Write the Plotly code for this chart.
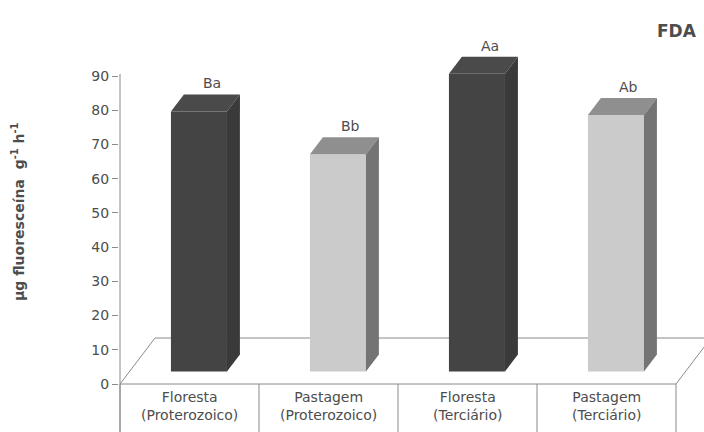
import plotly.graph_objects as go

# ---- data ----
categories = ["Floresta<br>(Proterozoico)", "Pastagem<br>(Proterozoico)",
              "Floresta<br>(Terciário)", "Pastagem<br>(Terciário)"]
values = [76, 63.5, 87, 75]
letters = ["Ba", "Bb", "Aa", "Ab"]
y_ticks = [0, 10, 20, 30, 40, 50, 60, 70, 80, 90]

front_colors = ["#444444", "#cbcbcb", "#444444", "#cbcbcb"]
top_colors = ["#4a4a4a", "#8f8f8f", "#4a4a4a", "#8f8f8f"]
side_colors = ["#3a3a3a", "#747474", "#3a3a3a", "#747474"]

# ---- pseudo-3D projection parameters (in axis units) ----
PX_X = 139.0          # pixels per category slot
PX_Y = 3.422          # pixels per value unit
DX = 35 / PX_X        # full floor depth, horizontal
DY = 46 / PX_Y        # full floor depth, vertical
D0, D1 = 0.27, 0.64   # bar front / back depth fractions
BAR_W = 0.403
ddx = (D1 - D0) * DX
ddy = (D1 - D0) * DY

L_MARGIN = 119
W, H = 704, 432
x0 = -0.5 - 1 / PX_X
x1 = x0 + (W - L_MARGIN) / PX_X
y_top = 384 / PX_Y
y_bot = -(H - 384) / PX_Y

xs = list(range(len(values)))
x_front = [i + D0 * DX for i in xs]
base = D0 * DY

fig = go.Figure()
fig.add_trace(go.Bar(
    x=x_front, y=values, base=[base] * len(values), width=BAR_W,
    marker=dict(color=front_colors, line=dict(width=0)),
    hoverinfo="skip", showlegend=False,
))

shapes = []
# floor
shapes.append(dict(
    type="path", xref="x", yref="y", layer="below",
    path=f"M {-0.5},0 L {3.5},0 L {3.5 + DX},{DY} L {-0.5 + DX},{DY} Z",
    line=dict(color="#8a8a8a", width=1), fillcolor="rgba(0,0,0,0)",
))
# category separators
for k in range(len(values) + 1):
    shapes.append(dict(type="line", xref="x", yref="y", layer="below",
                       x0=k - 0.5, x1=k - 0.5, y0=0, y1=y_bot,
                       line=dict(color="#8a8a8a", width=1)))
# value axis line
shapes.append(dict(type="line", xref="x", yref="y", layer="below",
                   x0=-0.5, x1=-0.5, y0=y_bot, y1=90.6,
                   line=dict(color="#8a8a8a", width=1)))
# bar top and side faces
for xf, v, tc, sc in zip(x_front, values, top_colors, side_colors):
    xl, xr = xf - BAR_W / 2, xf + BAR_W / 2
    yt = base + v
    shapes.append(dict(
        type="path", xref="x", yref="y", layer="above",
        path=f"M {xl},{yt} L {xr},{yt} L {xr + ddx},{yt + ddy} L {xl + ddx},{yt + ddy} Z",
        fillcolor=tc, line=dict(width=0)))
    shapes.append(dict(
        type="path", xref="x", yref="y", layer="above",
        path=f"M {xr},{base} L {xr},{yt} L {xr + ddx},{yt + ddy} L {xr + ddx},{base + ddy} Z",
        fillcolor=sc, line=dict(width=0)))

TXT = "#4d4d4d"
FONT = "DejaVu Sans, Verdana, sans-serif"
annotations = []
for i, c in zip(xs, categories):
    annotations.append(dict(x=i, y=-6.3, xref="x", yref="y", text=c,
                            xanchor="center", yanchor="middle",
                            showarrow=False, font=dict(size=14, color=TXT, family=FONT)))
for i, v, t in zip(xs, values, letters):
    annotations.append(dict(x=i + D1 * DX, y=v + D1 * DY, xref="x", yref="y", text=t,
                            showarrow=False, xanchor="center", yanchor="bottom", yshift=1,
                            font=dict(size=14, color=TXT, family=FONT)))
annotations.append(dict(x=(677 - L_MARGIN) / (W - L_MARGIN), y=1 - 31 / H,
                        xref="paper", yref="paper", text="<b>FDA</b>", showarrow=False,
                        xanchor="center", yanchor="middle",
                        font=dict(size=17, color=TXT, family=FONT)))
annotations.append(dict(x=(18 - L_MARGIN) / (W - L_MARGIN), y=1 - 212 / H,
                        xref="paper", yref="paper", textangle=-90,
                        xanchor="center", yanchor="middle",
                        text="<b>µg fluoresceína  g<sup>-1</sup> h<sup>-1</sup></b>",
                        showarrow=False, font=dict(size=14, color=TXT, family=FONT)))

fig.update_layout(
    width=W, height=H,
    margin=dict(l=L_MARGIN, r=0, t=0, b=0),
    paper_bgcolor="white", plot_bgcolor="white",
    shapes=shapes, annotations=annotations, showlegend=False,
    xaxis=dict(range=[x0, x1], visible=False),
    yaxis=dict(range=[y_bot, y_top], tickvals=y_ticks, ticktext=[str(t) for t in y_ticks],
               ticks="outside", ticklen=6, tickcolor="#8a8a8a", showgrid=False,
               zeroline=False, showline=False,
               tickfont=dict(size=14, color=TXT, family=FONT)),
)

fig.write_html("out.html")
